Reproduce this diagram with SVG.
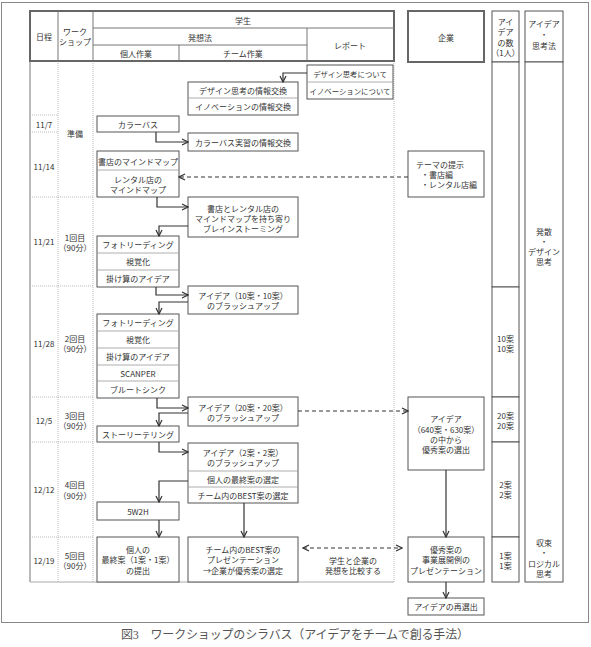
<svg xmlns="http://www.w3.org/2000/svg" width="591" height="647" viewBox="0 0 591 647">
<style>
.t{font-family:"Noto Sans CJK JP","Noto Sans",sans-serif;font-size:8px;fill:#333;text-anchor:middle;dominant-baseline:central}
.s{font-size:7.4px}
.l{text-anchor:start}
.box{fill:#fff;stroke:#555;stroke-width:1}
.hb{fill:#fff;stroke:#666;stroke-width:2}
.div{stroke:#999;stroke-width:0.8}
.hl{stroke:#777;stroke-width:1}
.grid{stroke:#aaa;stroke-width:0.8;stroke-dasharray:1 1}
.conn{fill:none;stroke:#333;stroke-width:1.2}
.dash{stroke-dasharray:4 3}
.cap{font-family:"Liberation Serif","Noto Sans CJK JP",serif;font-size:12px;fill:#555;text-anchor:middle;dominant-baseline:central}
</style>
<defs>
<marker id="ah" viewBox="0 0 8 8" refX="7" refY="4" markerWidth="8" markerHeight="8" markerUnits="userSpaceOnUse" orient="auto">
<path d="M1,1 L7,4 L1,7" fill="none" stroke="#333" stroke-width="1.2"/>
</marker>
<marker id="ahs" viewBox="0 0 8 8" refX="1" refY="4" markerWidth="8" markerHeight="8" markerUnits="userSpaceOnUse" orient="auto">
<path d="M7,1 L1,4 L7,7" fill="none" stroke="#333" stroke-width="1.2"/>
</marker>
</defs>
<rect x="1.5" y="2.5" width="587" height="620" fill="#fff" stroke="#888" stroke-width="1"/>

<g id="table-grid">
<line x1="30" y1="61" x2="30" y2="582" stroke="#777" stroke-width="1"/>
<line class="grid" x1="58" y1="61" x2="58" y2="582"/>
<line class="grid" x1="93" y1="61" x2="93" y2="582"/>
<line class="grid" x1="394" y1="61" x2="394" y2="582"/>
<line class="grid" x1="30" y1="115" x2="58" y2="115"/>
<line class="grid" x1="30" y1="132" x2="58" y2="132"/>
<line class="grid" x1="30" y1="197" x2="93" y2="197"/>
<line class="grid" x1="30" y1="286" x2="93" y2="286"/>
<line class="grid" x1="30" y1="397" x2="93" y2="397"/>
<line class="grid" x1="30" y1="442" x2="93" y2="442"/>
<line class="grid" x1="30" y1="537" x2="93" y2="537"/>
<line x1="30" y1="582" x2="394" y2="582" stroke="#aaa" stroke-width="1"/>
</g>

<g id="header">
<rect class="hb" x="30" y="11" width="364" height="50"/>
<line class="hl" x1="58" y1="11" x2="58" y2="61"/>
<line class="hl" x1="93" y1="11" x2="93" y2="61"/>
<line class="hl" x1="93" y1="28" x2="394" y2="28"/>
<line class="hl" x1="93" y1="45" x2="307" y2="45"/>
<line class="hl" x1="179" y1="45" x2="179" y2="61"/>
<line class="hl" x1="307" y1="28" x2="307" y2="61"/>
<text class="t" x="44" y="36">日程</text>
<text class="t" x="75" y="31">ワーク</text>
<text class="t" x="75" y="41">ショップ</text>
<text class="t" x="243" y="20">学生</text>
<text class="t" x="200" y="37">発想法</text>
<text class="t" x="136" y="53">個人作業</text>
<text class="t" x="243" y="53">チーム作業</text>
<text class="t" x="350" y="45">レポート</text>
</g>

<g id="header-company">
<rect class="hb" x="408" y="11" width="76" height="51"/>
<text class="t" x="446" y="37">企業</text>
</g>
<g id="header-count">
<rect class="box" x="492" y="11" width="27" height="51"/>
<text class="t" x="505.5" y="21">アイ</text>
<text class="t" x="505.5" y="31">デア</text>
<text class="t" x="505.5" y="42">の数</text>
<text class="t" x="505.5" y="52">（1人）</text>
</g>
<g id="header-method">
<rect class="box" x="525" y="11" width="38" height="51"/>
<text class="t" x="544" y="23">アイデア</text>
<text class="t" x="544" y="34">・</text>
<text class="t" x="544" y="45">思考法</text>
</g>

<g id="dates">
<text class="t" x="44" y="124">11/7</text>
<text class="t" x="44" y="166">11/14</text>
<text class="t" x="44" y="241">11/21</text>
<text class="t" x="44" y="343">11/28</text>
<text class="t" x="44" y="420">12/5</text>
<text class="t" x="44" y="489">12/12</text>
<text class="t" x="44" y="560">12/19</text>
</g>
<g id="workshops">
<text class="t" x="75" y="133">準備</text>
<text class="t" x="75" y="237">1回目</text>
<text class="t" x="75" y="247">（90分）</text>
<text class="t" x="75" y="338">2回目</text>
<text class="t" x="75" y="348">（90分）</text>
<text class="t" x="75" y="415">3回目</text>
<text class="t" x="75" y="425">（90分）</text>
<text class="t" x="75" y="484">4回目</text>
<text class="t" x="75" y="495">（90分）</text>
<text class="t" x="75" y="555">5回目</text>
<text class="t" x="75" y="565">（90分）</text>
</g>

<g id="count-col">
<rect class="box" x="492" y="62" width="27" height="225"/>
<rect class="box" x="492" y="287" width="27" height="110"/>
<rect class="box" x="492" y="397" width="27" height="45"/>
<rect class="box" x="492" y="442" width="27" height="95"/>
<rect class="box" x="492" y="537" width="27" height="45"/>
<text class="t" x="505.5" y="338">10案</text>
<text class="t" x="505.5" y="348">10案</text>
<text class="t" x="505.5" y="415">20案</text>
<text class="t" x="505.5" y="425">20案</text>
<text class="t" x="505.5" y="484">2案</text>
<text class="t" x="505.5" y="494">2案</text>
<text class="t" x="505.5" y="555">1案</text>
<text class="t" x="505.5" y="565">1案</text>
</g>
<g id="method-col">
<rect class="box" x="525" y="62" width="38" height="520"/>
<text class="t" x="544" y="231">発散</text>
<text class="t" x="544" y="241">・</text>
<text class="t" x="544" y="251">デザイン</text>
<text class="t" x="544" y="261">思考</text>
<text class="t" x="544" y="542">収束</text>
<text class="t" x="544" y="552">・</text>
<text class="t" x="544" y="563">ロジカル</text>
<text class="t" x="544" y="573">思考</text>
</g>

<g id="n-report">
<rect class="box" x="307" y="65" width="86" height="34"/>
<line class="div" x1="307" y1="82" x2="393" y2="82"/>
<text class="t s" x="350" y="73.5">デザイン思考について</text>
<text class="t s" x="350" y="90.5">イノベーションについて</text>
</g>
<g id="n-exchange">
<rect class="box" x="188" y="82" width="110" height="33"/>
<line class="div" x1="188" y1="98" x2="298" y2="98"/>
<text class="t" x="243" y="90">デザイン思考の情報交換</text>
<text class="t" x="243" y="106.5">イノベーションの情報交換</text>
</g>
<g id="n-colorbath">
<rect class="box" x="97" y="116" width="82" height="16"/>
<text class="t" x="138" y="124">カラーバス</text>
</g>
<g id="n-colorbath-ex">
<rect class="box" x="188" y="133" width="110" height="18"/>
<text class="t" x="243" y="142">カラーバス実習の情報交換</text>
</g>
<g id="n-mindmap">
<rect class="box" x="97" y="151" width="82" height="46"/>
<line class="div" x1="97" y1="170" x2="179" y2="170"/>
<text class="t" x="138" y="161">書店のマインドマップ</text>
<text class="t" x="138" y="179">レンタル店の</text>
<text class="t" x="138" y="189">マインドマップ</text>
</g>
<g id="n-theme">
<rect class="box" x="408" y="151" width="76" height="46"/>
<text class="t l" x="416" y="164">テーマの提示</text>
<text class="t l" x="421" y="174">・書店編</text>
<text class="t l" x="421" y="184">・レンタル店編</text>
</g>
<g id="n-brainstorm">
<rect class="box" x="188" y="197" width="110" height="40"/>
<text class="t" x="243" y="208">書店とレンタル店の</text>
<text class="t" x="243" y="218">マインドマップを持ち寄り</text>
<text class="t" x="243" y="228">ブレインストーミング</text>
</g>
<g id="n-methods1">
<rect class="box" x="97" y="236" width="82" height="51"/>
<line class="div" x1="97" y1="253" x2="179" y2="253"/>
<line class="div" x1="97" y1="270" x2="179" y2="270"/>
<text class="t" x="138" y="244.5">フォトリーディング</text>
<text class="t" x="138" y="261.5">視覚化</text>
<text class="t" x="138" y="278.5">掛け算のアイデア</text>
</g>
<g id="n-brush10">
<rect class="box" x="188" y="286" width="110" height="28"/>
<text class="t" x="243" y="295">アイデア（10案・10案）</text>
<text class="t" x="243" y="305">のブラッシュアップ</text>
</g>
<g id="n-methods2">
<rect class="box" x="97" y="314" width="82" height="84"/>
<line class="div" x1="97" y1="331" x2="179" y2="331"/>
<line class="div" x1="97" y1="348" x2="179" y2="348"/>
<line class="div" x1="97" y1="365" x2="179" y2="365"/>
<line class="div" x1="97" y1="381" x2="179" y2="381"/>
<text class="t" x="138" y="322.5">フォトリーディング</text>
<text class="t" x="138" y="339.5">視覚化</text>
<text class="t" x="138" y="356.5">掛け算のアイデア</text>
<text class="t" x="138" y="373">SCANPER</text>
<text class="t" x="138" y="389.5">ブルートシンク</text>
</g>
<g id="n-brush20">
<rect class="box" x="188" y="397" width="110" height="29"/>
<text class="t" x="243" y="407">アイデア（20案・20案）</text>
<text class="t" x="243" y="417">のブラッシュアップ</text>
</g>
<g id="n-select640">
<rect class="box" x="408" y="397" width="76" height="73"/>
<text class="t" x="446" y="418">アイデア</text>
<text class="t" x="446" y="429">（640案・630案）</text>
<text class="t" x="446" y="439">の中から</text>
<text class="t" x="446" y="449">優秀案の選出</text>
</g>
<g id="n-story">
<rect class="box" x="97" y="426" width="82" height="16"/>
<text class="t" x="138" y="434">ストーリーテリング</text>
</g>
<g id="n-brush2">
<rect class="box" x="188" y="443" width="110" height="60"/>
<line class="div" x1="188" y1="471" x2="298" y2="471"/>
<line class="div" x1="188" y1="487" x2="298" y2="487"/>
<text class="t" x="243" y="452">アイデア（2案・2案）</text>
<text class="t" x="243" y="462">のブラッシュアップ</text>
<text class="t" x="243" y="479">個人の最終案の選定</text>
<text class="t" x="243" y="495">チーム内のBEST案の選定</text>
</g>
<g id="n-5w2h">
<rect class="box" x="97" y="502" width="82" height="18"/>
<text class="t" x="138" y="511">5W2H</text>
</g>
<g id="n-final">
<rect class="box" x="97" y="537" width="82" height="45"/>
<text class="t" x="138" y="549.5">個人の</text>
<text class="t" x="138" y="559.5">最終案（1案・1案）</text>
<text class="t" x="138" y="570">の提出</text>
</g>
<g id="n-teampres">
<rect class="box" x="188" y="537" width="110" height="45"/>
<text class="t" x="243" y="549.5">チーム内のBEST案の</text>
<text class="t" x="243" y="559.5">プレゼンテーション</text>
<text class="t" x="243" y="570">→企業が優秀案の選定</text>
</g>
<g id="n-compare">
<text class="t" x="353" y="560">学生と企業の</text>
<text class="t" x="353" y="570">発想を比較する</text>
</g>
<g id="n-compres">
<rect class="box" x="408" y="537" width="76" height="45"/>
<text class="t" x="446" y="549">優秀案の</text>
<text class="t" x="446" y="559.5">事業展開例の</text>
<text class="t" x="446" y="570">プレゼンテーション</text>
</g>
<g id="n-reselect">
<rect class="box" x="408" y="598" width="76" height="17"/>
<text class="t" x="446" y="606.5">アイデアの再選出</text>
</g>

<g id="connectors">
<path class="conn" d="M307,73 H283 V82" marker-end="url(#ah)"/>
<path class="conn" d="M156,132 V142 H188" marker-end="url(#ah)"/>
<path class="conn dash" d="M408,177 H179" marker-end="url(#ah)"/>
<path class="conn" d="M157,197 V207 H188" marker-end="url(#ah)"/>
<path class="conn" d="M188,226 H159 V236" marker-end="url(#ah)"/>
<path class="conn" d="M156,287 V295 H188" marker-end="url(#ah)"/>
<path class="conn" d="M188,302 H159 V314" marker-end="url(#ah)"/>
<path class="conn" d="M157,398 V408 H188" marker-end="url(#ah)"/>
<path class="conn dash" d="M298,411 H408" marker-end="url(#ah)"/>
<path class="conn" d="M188,413 H159 V426" marker-end="url(#ah)"/>
<path class="conn" d="M159,442 V452 H188" marker-end="url(#ah)"/>
<path class="conn" d="M188,481 H159 V502" marker-end="url(#ah)"/>
<path class="conn" d="M159,520 V537" marker-end="url(#ah)"/>
<path class="conn" d="M244,503 V537" marker-end="url(#ah)"/>
<path class="conn" d="M446,470 V537" marker-end="url(#ah)"/>
<path class="conn" d="M446,582 V598" marker-end="url(#ah)"/>
<path class="conn dash" d="M303,548 H402" marker-start="url(#ahs)" marker-end="url(#ah)"/>
</g>

<text class="cap" x="295" y="635" textLength="348" lengthAdjust="spacing">図3　ワークショップのシラバス（アイデアをチームで創る手法）</text>
</svg>
